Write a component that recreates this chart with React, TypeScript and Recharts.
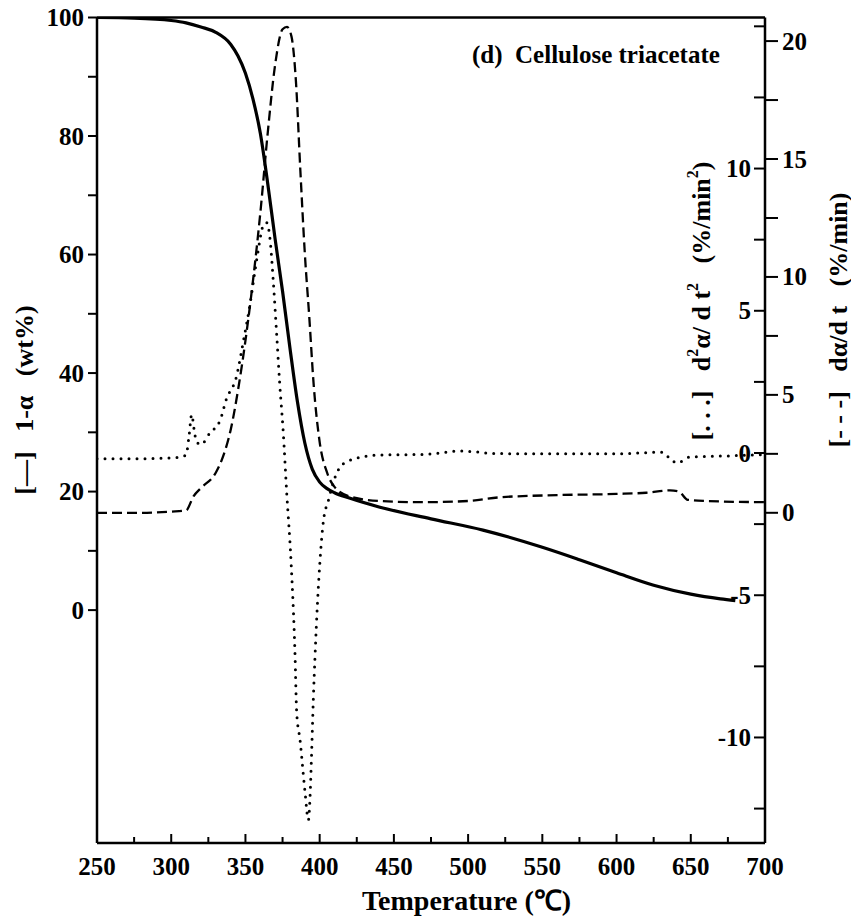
import { LineChart, Line, XAxis, YAxis } from "recharts";

// temperature (°C) and 1-α (wt%) — solid curve, left axis
const massT = [250, 275, 300, 310, 320, 330, 340, 345, 350, 355, 360, 365, 370, 375, 380, 385, 390, 395, 400, 405, 410, 420, 440, 475, 510, 550, 575, 600, 625, 650, 670, 680];
const massV = [100, 99.9, 99.5, 99.1, 98.4, 97.5, 95.5, 93.5, 90.6, 86.3, 80.5, 72.0, 62.6, 53.8, 44.2, 35.2, 28.2, 23.8, 21.6, 20.5, 19.8, 18.9, 17.4, 15.4, 13.5, 10.6, 8.5, 6.3, 4.2, 2.7, 1.9, 1.6];

// dα/dt (%/min) — dashed curve, outer right axis
const rateT = [250, 280, 300, 310, 315, 320, 330, 335, 340, 345, 350, 355, 360, 365, 370, 375, 378, 381, 384, 387, 390, 393, 396, 400, 405, 410, 420, 440, 470, 500, 520, 560, 600, 620, 636, 642, 648, 660, 700];
const rateV = [0, 0, 0.05, 0.1, 0.7, 1.05, 1.7, 2.4, 3.5, 5.2, 7.3, 9.8, 12.7, 16.1, 19.0, 20.5, 20.6, 20.2, 18.3, 14.5, 11.0, 8.3, 5.4, 3.0, 1.7, 1.1, 0.7, 0.5, 0.45, 0.5, 0.65, 0.75, 0.8, 0.85, 0.95, 0.9, 0.55, 0.5, 0.45];

// d²α/dt² (%/min²) — dotted curve, inner right axis
const accT = [250, 280, 305, 310, 312, 313.8, 315.5, 317, 320, 326, 333, 337, 344, 348.5, 353, 357.6, 362, 364.3, 366.6, 368.8, 371, 373, 375.5, 377.8, 380.7, 383.4, 384.5, 386.8, 390.1, 392.4, 393.5, 394.6, 395.7, 396.9, 398.5, 400.2, 402.5, 405.9, 410.4, 413.7, 418, 425, 440, 470, 495, 520, 560, 600, 631, 636, 640.7, 649.5, 676, 700];
const accV = [-0.2, -0.2, -0.15, -0.07, 0.6, 1.35, 0.8, 0.4, 0.3, 0.7, 1.16, 1.87, 2.7, 3.9, 5.2, 6.8, 8.0, 8.1, 7.5, 6.0, 4.2, 2.5, 0.7, -1.4, -3.8, -7.1, -9.1, -10.1, -11.9, -12.9, -12.1, -10.5, -8.7, -7.1, -5.3, -3.8, -2.4, -1.66, -0.85, -0.49, -0.32, -0.18, -0.07, -0.05, 0.07, -0.02, -0.03, -0.03, 0.03, -0.2, -0.35, -0.14, -0.1, -0.05];

const xTicks = [250, 275, 300, 325, 350, 375, 400, 425, 450, 475, 500, 525, 550, 575, 600, 625, 650, 675, 700];
const massTicks = [0, 10, 20, 30, 40, 50, 60, 70, 80, 90, 100];
const accTicks = [-12.5, -10, -7.5, -5, -2.5, 0, 2.5, 5, 7.5, 10, 12.5, 15];
const accLabels = [-10, -5, 0, 5, 10];
const rateTicks = [0, 2.5, 5, 7.5, 10, 12.5, 15, 17.5, 20];

const massData = massT.map((t, i) => ({ t, v: massV[i] }));
const rateData = rateT.map((t, i) => ({ t, v: rateV[i] }));
const accData = accT.map((t, i) => ({ t, v: accV[i] }));

const font = {
  fontFamily: "'Liberation Serif', 'Times New Roman', serif",
  fontWeight: 700,
  fontSize: 25,
  fill: "#000",
};

const gap = "\u00a0\u00a0\u00a0";

function XTick({ x, y, payload }: any) {
  const v = payload.value;
  const major = v % 50 === 0;
  return (
    <g>
      <line x1={x} x2={x} y1={y} y2={y - (major ? 9 : 6)} stroke="#000" strokeWidth={2} />
      {major && (
        <text x={x} y={y + 32} textAnchor="middle" style={font}>
          {v}
        </text>
      )}
    </g>
  );
}

function MassTick({ x, y, payload }: any) {
  const v = payload.value;
  return (
    <g>
      <line x1={x - 9} x2={x} y1={y} y2={y} stroke="#000" strokeWidth={2} />
      {v % 20 === 0 && (
        <text x={x - 13} y={y + 8.5} textAnchor="end" style={font}>
          {v}
        </text>
      )}
    </g>
  );
}

function AccTick({ x, y, payload }: any) {
  const v = payload.value;
  return (
    <g>
      <line x1={x - 11} x2={x} y1={y} y2={y} stroke="#000" strokeWidth={2} />
      {accLabels.includes(v) && (
        <text x={x - 14} y={y + 8.5} textAnchor="end" style={font}>
          {v}
        </text>
      )}
    </g>
  );
}

function RateTick({ x, y, payload }: any) {
  const v = payload.value;
  return (
    <g>
      <line x1={x} x2={x + 12} y1={y} y2={y} stroke="#000" strokeWidth={2} />
      {v % 5 === 0 && (
        <text x={x + 16} y={y + 8.5} textAnchor="start" style={font}>
          {v}
        </text>
      )}
    </g>
  );
}

const sup = { fontSize: 16, baselineShift: "super" } as any;
const axisStroke = { stroke: "#000", strokeWidth: 2.5 };

export default function App() {
  return (
    <div style={{ position: "absolute", left: 0, top: 0, width: 851, height: 918, background: "#fff" }}>
      <LineChart
        width={851}
        height={918}
        margin={{ top: 16.5, right: 84, bottom: 74, left: 96 }}
      >
        <XAxis
          xAxisId="t"
          dataKey="t"
          type="number"
          domain={[250, 700]}
          ticks={xTicks}
          interval={0}
          allowDataOverflow
          height={1}
          tickSize={0}
          tickMargin={0}
          tickLine={false}
          axisLine={axisStroke}
          tick={<XTick />}
        />
        <XAxis
          xAxisId="top"
          orientation="top"
          type="number"
          domain={[250, 700]}
          height={1}
          tick={false}
          tickLine={false}
          axisLine={axisStroke}
        />
        <YAxis
          yAxisId="mass"
          type="number"
          domain={[-39.3, 100]}
          ticks={massTicks}
          interval={0}
          allowDataOverflow
          width={1}
          tickSize={0}
          tickMargin={0}
          tickLine={false}
          axisLine={axisStroke}
          tick={<MassTick />}
        />
        <YAxis
          yAxisId="acc"
          orientation="right"
          type="number"
          domain={[-13.71, 15.31]}
          ticks={accTicks}
          interval={0}
          allowDataOverflow
          width={1}
          tickSize={0}
          tickMargin={0}
          tickLine={false}
          axisLine={axisStroke}
          tick={<AccTick />}
        />
        <YAxis
          yAxisId="rate"
          orientation="right"
          type="number"
          domain={[-14, 21]}
          ticks={rateTicks}
          interval={0}
          allowDataOverflow
          width={1}
          tickSize={0}
          tickMargin={0}
          tickLine={false}
          axisLine={false}
          tick={<RateTick />}
        />
        <Line
          xAxisId="t"
          yAxisId="acc"
          data={accData}
          dataKey="v"
          type="monotone"
          stroke="#000"
          strokeWidth={3}
          strokeDasharray="0 8"
          strokeLinecap="round"
          dot={false}
          isAnimationActive={false}
        />
        <Line
          xAxisId="t"
          yAxisId="rate"
          data={rateData}
          dataKey="v"
          type="monotone"
          stroke="#000"
          strokeWidth={2.3}
          strokeDasharray="10 5"
          dot={false}
          isAnimationActive={false}
        />
        <Line
          xAxisId="t"
          yAxisId="mass"
          data={massData}
          dataKey="v"
          type="monotone"
          stroke="#000"
          strokeWidth={3.2}
          dot={false}
          isAnimationActive={false}
        />
      </LineChart>
      <svg
        width={851}
        height={918}
        style={{ position: "absolute", left: 0, top: 0, pointerEvents: "none" }}
      >
        <text x={472} y={63} style={font}>
          (d)&#160;&#160;Cellulose triacetate
        </text>
        <text x={362} y={910} textAnchor="start" style={{ ...font, fontSize: 28 }}>
          Temperature (℃)
        </text>
        <text
          transform="translate(24 400) rotate(-90)"
          textAnchor="middle"
          dominantBaseline="central"
          style={{ ...font, fontSize: 26 }}
        >
          {"[—]" + gap + "1-α" + gap + "(wt%)"}
        </text>
        <text
          transform="translate(701 301) rotate(-90)"
          textAnchor="middle"
          dominantBaseline="central"
          style={{ ...font, fontSize: 26 }}
        >
          {"[. . .]" + gap + "d"}
          <tspan style={sup}>2</tspan>
          {"α/ d t"}
          <tspan style={sup}>2</tspan>
          {gap + "(%/min"}
          <tspan style={sup}>2</tspan>
          {")"}
        </text>
        <text
          transform="translate(838 320) rotate(-90)"
          textAnchor="middle"
          dominantBaseline="central"
          style={{ ...font, fontSize: 26 }}
        >
          {"[- - -]" + gap + "dα/d t" + gap + "(%/min)"}
        </text>
      </svg>
    </div>
  );
}
